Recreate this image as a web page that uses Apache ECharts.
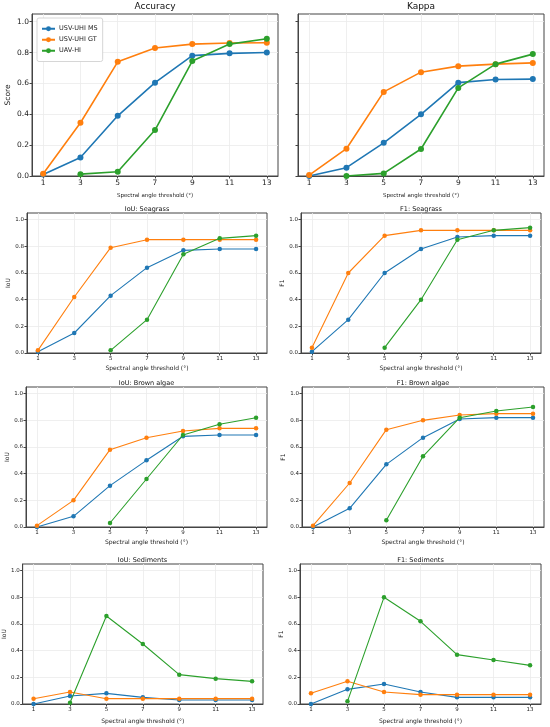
<!DOCTYPE html>
<html>
<head>
<meta charset="utf-8">
<script src="https://cdn.jsdelivr.net/npm/echarts@6/dist/echarts.min.js"></script>
<style>
  html, body { margin: 0; padding: 0; background: #fff; }
  #chart { width: 550px; height: 727px; }
</style>
</head>
<body>
<div id="chart"></div>
<script>
// x values (spectral angle threshold, degrees)
var thresholds = [1, 3, 5, 7, 9, 11, 13];
var yTicks = [0, 0.2, 0.4, 0.6, 0.8, 1.0];
var seriesNames = ['USV-UHI MS', 'USV-UHI GT', 'UAV-HI'];

// Accuracy
var accMS  = [0.01, 0.12, 0.39, 0.605, 0.78, 0.795, 0.80];
var accGT  = [0.015, 0.345, 0.74, 0.83, 0.855, 0.862, 0.864];
var accUAV = [null, 0.012, 0.028, 0.298, 0.745, 0.855, 0.89];
// Kappa
var kapMS  = [0.0, 0.054, 0.215, 0.40, 0.605, 0.625, 0.628];
var kapGT  = [0.006, 0.177, 0.545, 0.673, 0.712, 0.725, 0.733];
var kapUAV = [null, 0.0, 0.017, 0.175, 0.571, 0.725, 0.79];
// IoU: Seagrass
var iouSgMS  = [0.01, 0.15, 0.43, 0.64, 0.77, 0.78, 0.78];
var iouSgGT  = [0.02, 0.42, 0.79, 0.85, 0.85, 0.85, 0.85];
var iouSgUAV = [null, null, 0.02, 0.25, 0.74, 0.86, 0.88];
// F1: Seagrass
var f1SgMS  = [0.01, 0.25, 0.60, 0.78, 0.87, 0.88, 0.88];
var f1SgGT  = [0.04, 0.60, 0.88, 0.92, 0.92, 0.92, 0.92];
var f1SgUAV = [null, null, 0.04, 0.40, 0.85, 0.92, 0.94];
// IoU: Brown algae
var iouBaMS  = [0.0, 0.08, 0.31, 0.50, 0.68, 0.69, 0.69];
var iouBaGT  = [0.01, 0.20, 0.58, 0.67, 0.72, 0.74, 0.74];
var iouBaUAV = [null, null, 0.03, 0.36, 0.69, 0.77, 0.82];
// F1: Brown algae
var f1BaMS  = [0.0, 0.14, 0.47, 0.67, 0.81, 0.82, 0.82];
var f1BaGT  = [0.01, 0.33, 0.73, 0.80, 0.84, 0.85, 0.85];
var f1BaUAV = [null, null, 0.05, 0.53, 0.82, 0.87, 0.90];
// IoU: Sediments
var iouSdMS  = [0.0, 0.06, 0.08, 0.05, 0.03, 0.03, 0.03];
var iouSdGT  = [0.04, 0.09, 0.04, 0.04, 0.04, 0.04, 0.04];
var iouSdUAV = [null, 0.01, 0.66, 0.45, 0.22, 0.19, 0.17];
// F1: Sediments
var f1SdMS  = [0.0, 0.11, 0.15, 0.09, 0.05, 0.05, 0.05];
var f1SdGT  = [0.08, 0.17, 0.09, 0.07, 0.07, 0.07, 0.07];
var f1SdUAV = [null, 0.02, 0.80, 0.62, 0.37, 0.33, 0.29];

var colors = ['#1f77b4', '#ff7f0e', '#2ca02c'];
var font = 'DejaVu Sans';

var panels = [
  { title: 'Accuracy', yName: 'Score', data: [accMS, accGT, accUAV],
    left: 32, top: 14, width: 246, height: 162, big: true, yLabels: true, nameGap: 17, yGap: 20 },
  { title: 'Kappa', yName: '', data: [kapMS, kapGT, kapUAV],
    left: 298, top: 14, width: 246, height: 162, big: true, yLabels: false, nameGap: 17, yGap: 20 },
  { title: 'IoU: Seagrass', yName: 'IoU', data: [iouSgMS, iouSgGT, iouSgUAV],
    left: 27, top: 213, width: 240, height: 140, yLabels: true, nameGap: 12, yGap: 16 },
  { title: 'F1: Seagrass', yName: 'F1', data: [f1SgMS, f1SgGT, f1SgUAV],
    left: 301, top: 213, width: 240, height: 140, yLabels: true, nameGap: 12, yGap: 16 },
  { title: 'IoU: Brown algae', yName: 'IoU', data: [iouBaMS, iouBaGT, iouBaUAV],
    left: 26, top: 387, width: 241, height: 140, yLabels: true, nameGap: 12, yGap: 16 },
  { title: 'F1: Brown algae', yName: 'F1', data: [f1BaMS, f1BaGT, f1BaUAV],
    left: 302, top: 387, width: 242, height: 140, yLabels: true, nameGap: 12, yGap: 16 },
  { title: 'IoU: Sediments', yName: 'IoU', data: [iouSdMS, iouSdGT, iouSdUAV],
    left: 22, top: 564, width: 241, height: 140, yLabels: true, nameGap: 14, yGap: 15 },
  { title: 'F1: Sediments', yName: 'F1', data: [f1SdMS, f1SdGT, f1SdUAV],
    left: 300, top: 564, width: 241, height: 140, yLabels: true, nameGap: 14, yGap: 15 }
];

var grids = [], xAxes = [], yAxes = [], series = [], graphics = [];

panels.forEach(function (p, i) {
  var labelSize = p.big ? 7.5 : 5.5;
  grids.push({
    left: p.left, top: p.top, width: p.width, height: p.height,
    show: true, borderColor: '#444', borderWidth: 1, backgroundColor: '#fff'
  });
  xAxes.push({
    type: 'value', gridIndex: i, min: 0.4, max: 13.6,
    name: 'Spectral angle threshold (°)', nameLocation: 'middle', nameGap: p.nameGap,
    nameTextStyle: { fontFamily: font, fontSize: p.big ? 5.5 : 6, color: '#222' },
    axisLine: { show: true, onZero: false, lineStyle: { color: '#444', width: 1 } },
    axisTick: { show: true, length: 2.5, customValues: thresholds, lineStyle: { color: '#444' } },
    axisLabel: { customValues: thresholds, fontFamily: font, fontSize: labelSize, color: '#222', margin: 3 },
    splitLine: { show: true, lineStyle: { color: '#ebebeb', width: 0.8 } }
  });
  yAxes.push({
    type: 'value', gridIndex: i, min: 0, max: 1.05,
    name: p.yName, nameLocation: 'middle', nameGap: p.yGap,
    nameTextStyle: { fontFamily: font, fontSize: p.big ? 7.5 : 6, color: '#222' },
    axisLine: { show: true, lineStyle: { color: '#444', width: 1 } },
    axisTick: { show: true, length: 2.5, customValues: yTicks, lineStyle: { color: '#444' } },
    axisLabel: { show: p.yLabels, customValues: yTicks, fontFamily: font, fontSize: labelSize, color: '#222', margin: 3,
      formatter: function (v) { return v.toFixed(1); } },
    splitLine: { show: true, lineStyle: { color: '#ebebeb', width: 0.8 } }
  });
  p.data.forEach(function (arr, k) {
    var pts = [];
    thresholds.forEach(function (t, j) { if (arr[j] !== null) pts.push([t, arr[j]]); });
    series.push({
      name: seriesNames[k], type: 'line', xAxisIndex: i, yAxisIndex: i,
      data: pts, color: colors[k],
      symbol: 'circle', symbolSize: p.big ? 6 : 4.5, showSymbol: true,
      lineStyle: { width: p.big ? 1.6 : 1.1, color: colors[k] },
      itemStyle: { color: colors[k] },
      z: 3 + k, silent: true, animation: false
    });
  });
  graphics.push({
    type: 'text', x: p.left + p.width / 2, y: p.top - (p.big ? 7 : 4),
    style: { text: p.title, align: 'center', verticalAlign: 'middle',
      font: (p.big ? 9 : 6.5) + 'px "' + font + '"', fill: '#111' }
  });
});

var chart = echarts.init(document.getElementById('chart'));
chart.setOption({
  animation: false,
  backgroundColor: '#fff',
  grid: grids,
  xAxis: xAxes,
  yAxis: yAxes,
  series: series,
  graphic: graphics,
  legend: {
    data: seriesNames, orient: 'vertical', left: 37, top: 18,
    padding: [7, 5, 7, 4], itemGap: 3.5, itemWidth: 13, itemHeight: 6,
    borderColor: '#ccc', borderWidth: 0.8, borderRadius: 2, backgroundColor: '#fff',
    textStyle: { fontFamily: font, fontSize: 6.5, lineHeight: 7.5, color: '#222', padding: [0, 0, 0, -1] }
  }
});
</script>
</body>
</html>
